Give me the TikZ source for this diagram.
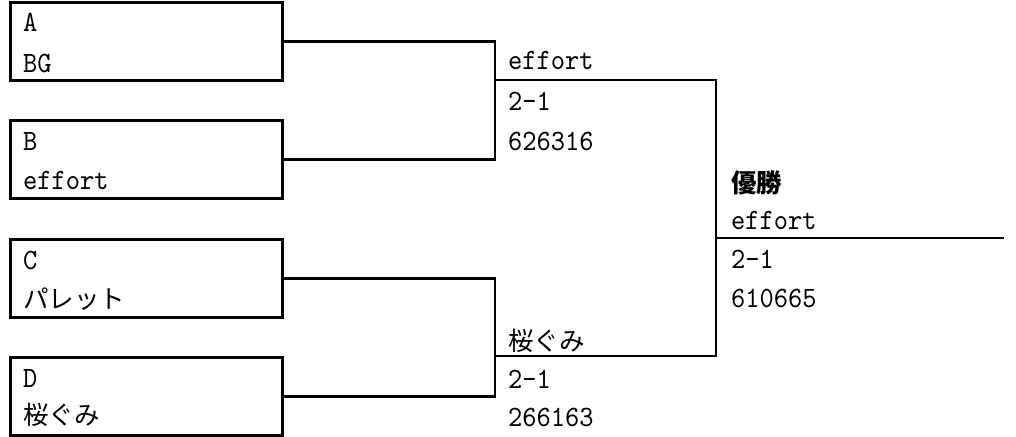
\documentclass[tikz,border=0pt]{standalone}
\usepackage{fontspec}
\newfontfamily\jp{Noto Sans CJK JP}
\newfontfamily\lat{lmmono10-regular.otf}[FakeStretch=0.92]
\begin{document}
\begin{tikzpicture}[x=1pt,y=1pt,
  team/.style={draw,line width=2.6pt,minimum width=272pt,minimum height=78pt,inner sep=0pt,anchor=north west},
  txt/.style={anchor=base west,inner sep=0pt,font=\fontsize{29.5}{40}\selectfont\lat},
  jtxt/.style={anchor=base west,inner sep=0pt,font=\fontsize{25.5}{40}\selectfont\jp},
  line/.style={line width=2.6pt,line cap=rect}]
\useasboundingbox (0,0) rectangle (1016,-436);
\node[team] (A) at (9,-1) {};
\node[team] (B) at (9,-119) {};
\node[team] (C) at (9,-238) {};
\node[team] (D) at (9,-356) {};
\coordinate (j1) at (495,-80);
\coordinate (j2) at (495,-356);
\coordinate (k) at (716,-238);
\coordinate (fin) at (1003,-238);
\draw[line] (A.east) -| (j1) |- (B.east);
\draw[line] (C.east) -| (j2) |- (D.east);
\draw[line] (j1) -| (k);
\draw[line] (j2) -| (k);
\draw[line] (k) -- (fin);
% box texts
\node[txt] (tA) at (23,-32) {A};
\node[txt] (tA2) at (23,-72) {BG};
\node[txt] (tB) at (23,-150) {B};
\node[txt] (tB2) at (23,-189) {effort};
\node[txt] (tC) at (23,-269) {C};
\node[jtxt] (tC2) at (23,-308) {パレット};
\node[txt] (tD) at (23,-387) {D};
\node[jtxt] (tD2) at (23,-424) {桜ぐみ};
% semi-final results
\node[txt] (s1) at (508,-70) {effort};
\node[txt] (s1b) at (508,-110) {2-1};
\node[txt] (s1c) at (508,-150) {626316};
\node[jtxt] (s2) at (508,-350) {桜ぐみ};
\node[txt] (s2b) at (508,-388) {2-1};
\node[txt] (s2c) at (508,-426) {266163};
% final
\node[jtxt,font=\fontsize{25.5}{40}\selectfont\jp\bfseries] (w) at (731,-192) {優勝};
\node[txt] (wb) at (731,-229) {effort};
\node[txt] (wc) at (731,-268) {2-1};
\node[txt] (wd) at (731,-307) {610665};
\end{tikzpicture}
\end{document}
